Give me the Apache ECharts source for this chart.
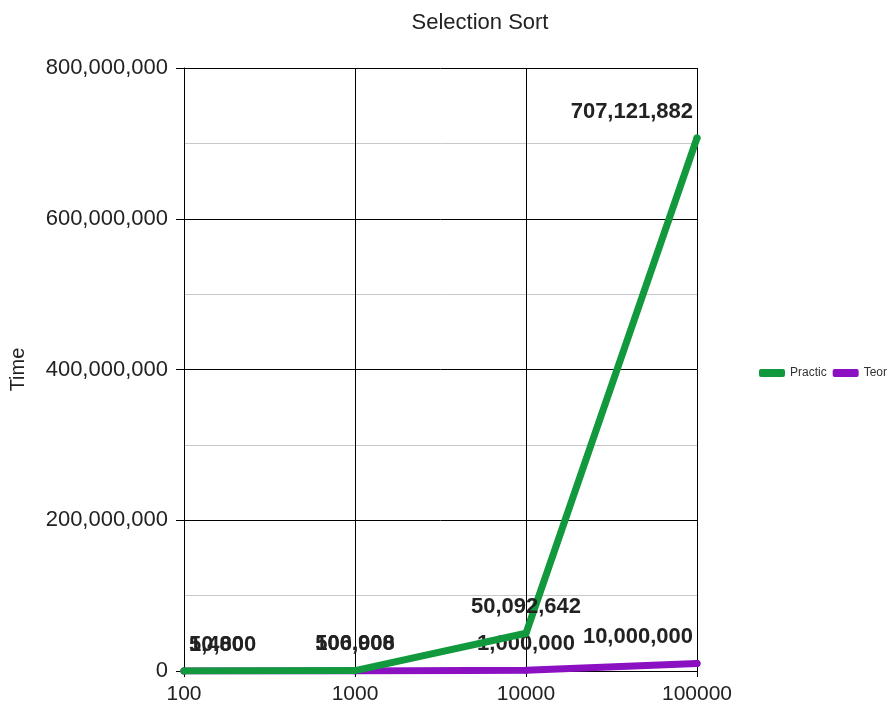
<!DOCTYPE html>
<html>
<head>
<meta charset="utf-8">
<script src="https://cdn.jsdelivr.net/npm/echarts@6/dist/echarts.min.js"></script>
<style>
  html, body { margin: 0; padding: 0; background: #fff; }
  #chart { width: 893px; height: 710px; }
</style>
</head>
<body>
<div id="chart"></div>
<script>
// Input sizes (category axis)
const sizes = ['100', '1000', '10000', '100000'];
// Measured running time
const practic = [5480, 506908, 50092642, 707121882];
// Theoretical estimate
const teor = [10000, 100000, 1000000, 10000000];
// Y axis range
const yMin = 0;
const yMax = 800000000;
const yStep = 200000000;

const fmt = v => Number(v).toLocaleString('en-US');
const FONT = 'Liberation Sans, Arial, sans-serif';

// Keep end-point labels inside the plot area
function withLabels(values) {
  return values.map((v, i) => {
    const item = { value: v };
    if (i === 0) item.label = { align: 'left', offset: [5, 0] };
    if (i === values.length - 1) item.label = { align: 'right', offset: [-4, 0] };
    return item;
  });
}

const labelStyle = {
  show: true,
  position: 'top',
  distance: 12,
  fontFamily: FONT,
  fontSize: 22,
  fontWeight: 'bold',
  color: '#222',
  formatter: p => fmt(p.value)
};

const chart = echarts.init(document.getElementById('chart'), null, { renderer: 'canvas' });
chart.setOption({
  animation: false,
  backgroundColor: '#fff',
  title: {
    text: 'Selection Sort',
    left: 475,
    textAlign: 'center',
    top: 7,
    textStyle: { fontFamily: FONT, fontSize: 22, fontWeight: 'normal', color: '#222' }
  },
  legend: {
    left: 754,
    top: 362,
    icon: 'roundRect',
    itemWidth: 26,
    itemHeight: 8,
    itemGap: 6,
    textStyle: { fontFamily: FONT, fontSize: 12, color: '#333' },
    data: ['Practic', 'Teor']
  },
  grid: { left: 182, right: 196, top: 68, bottom: 39 },
  xAxis: {
    type: 'category',
    data: sizes,
    boundaryGap: false,
    axisLine: { show: true, lineStyle: { color: '#000', width: 1 } },
    axisTick: { show: true, length: 6, lineStyle: { color: '#000' } },
    axisLabel: { fontFamily: FONT, fontSize: 21, color: '#222', margin: 13 },
    splitLine: { show: true, lineStyle: { color: '#000', width: 1 } }
  },
  yAxis: {
    type: 'value',
    min: yMin,
    max: yMax,
    interval: yStep,
    name: 'Time',
    nameLocation: 'middle',
    nameGap: 156,
    nameRotate: 90,
    nameTextStyle: { fontFamily: FONT, fontSize: 20, color: '#222' },
    axisLine: { show: true, lineStyle: { color: '#000', width: 1 } },
    axisTick: { show: true, length: 8, lineStyle: { color: '#000' } },
    axisLabel: { fontFamily: FONT, fontSize: 22, color: '#222', margin: 16, formatter: v => fmt(v) },
    splitLine: { show: true, lineStyle: { color: '#000', width: 1 } },
    minorTick: { show: false, splitNumber: 2 },
    minorSplitLine: { show: true, lineStyle: { color: '#c8c8c8', width: 1 } }
  },
  series: [
    {
      name: 'Teor',
      type: 'line',
      data: withLabels(teor),
      color: '#8a10c2',
      symbol: 'circle',
      symbolSize: 7,
      lineStyle: { width: 7, cap: 'round', join: 'round' },
      label: labelStyle,
      z: 2
    },
    {
      name: 'Practic',
      type: 'line',
      data: withLabels(practic),
      color: '#12993d',
      symbol: 'circle',
      symbolSize: 7,
      lineStyle: { width: 7, cap: 'round', join: 'round' },
      label: labelStyle,
      z: 3
    }
  ]
});
</script>
</body>
</html>
